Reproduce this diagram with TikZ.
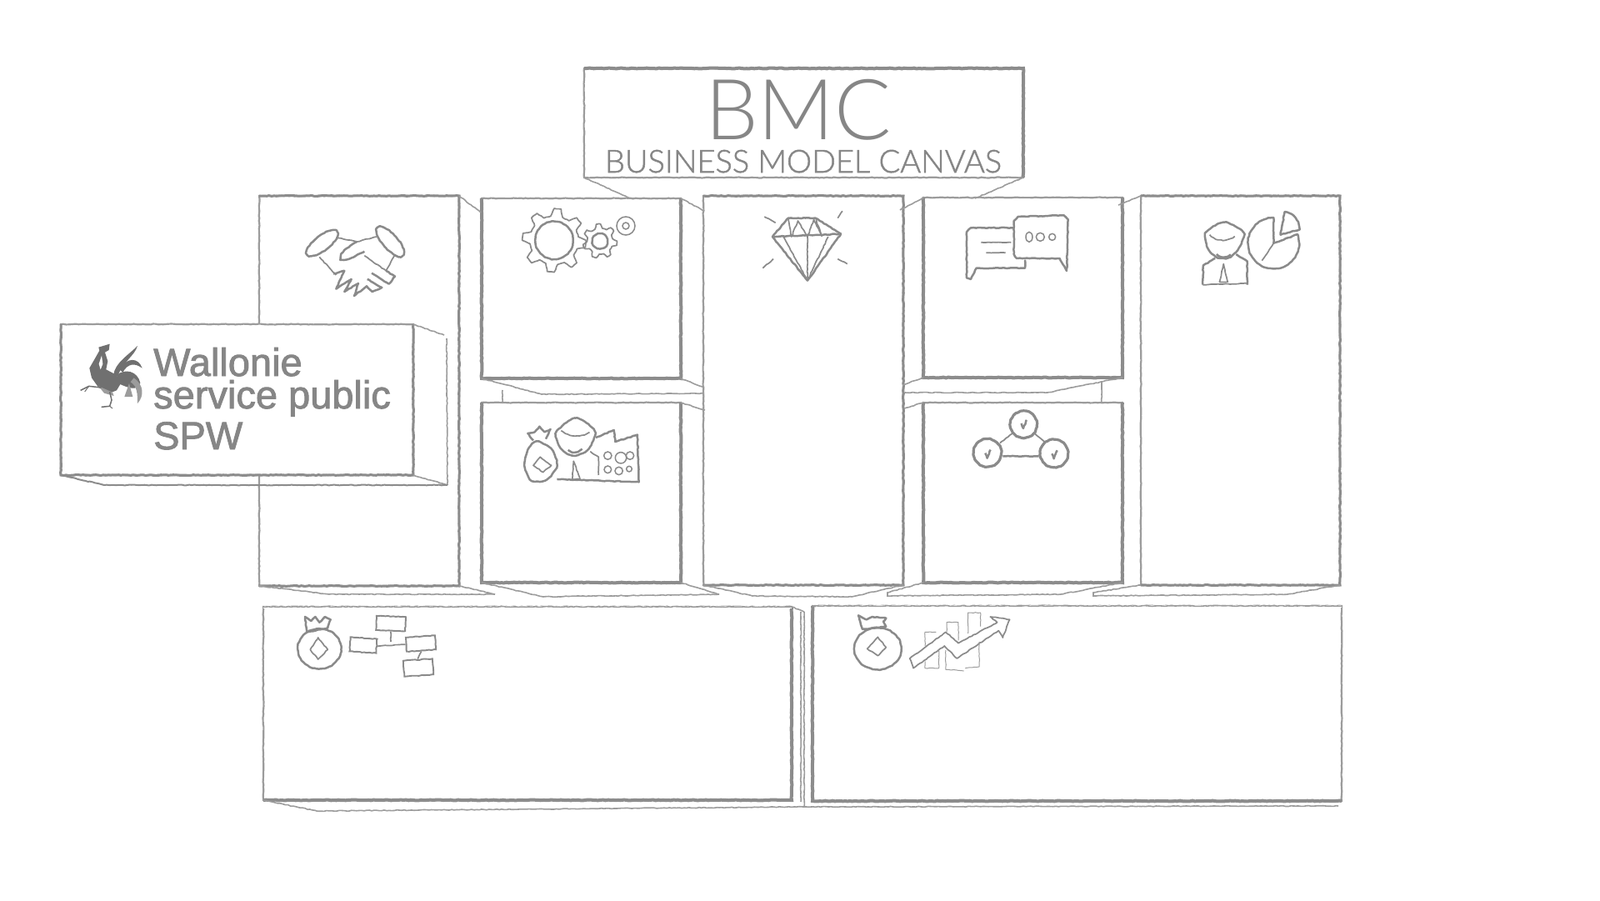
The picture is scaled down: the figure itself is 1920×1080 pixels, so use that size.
\documentclass[tikz,border=0pt]{standalone}
\usepackage{fontspec}
\usepackage{tikz}
\usetikzlibrary{decorations.pathmorphing}
\setmainfont{Liberation Sans}
\newfontfamily\titlefont{Lato Light}
\definecolor{cpencil}{HTML}{8C8C8C}
\definecolor{cthin}{HTML}{9C9C9C}
\definecolor{cicon}{HTML}{8A8A8A}
\definecolor{clogo}{HTML}{868686}
\definecolor{ccock}{HTML}{707070}
\tikzset{
  rough/.style={decorate, decoration={random steps, segment length=3pt, amplitude=.45pt}},
  panel/.style={rough, draw=cthin, line width=2.2pt, anchor=north west, inner sep=0pt, outer sep=0pt},
  heavy/.style={rough, draw=cpencil, line width=4pt},
  mid/.style={rough, draw=cpencil, line width=3pt},
  fold/.style={rough, draw=cthin, line width=1.6pt},
  icon/.style={rough, draw=cicon, line width=1.7pt, line join=round},
  iconb/.style={icon, line width=2.5pt},
  iconp/.style={draw=cicon, line width=1.5pt},
  bars/.style={icon, draw=cthin, line width=1pt},
  flowbox/.style={rough, draw=cicon, line width=1.9pt, inner sep=0pt, minimum width=35pt, minimum height=17pt},
  logotxt/.style={anchor=base west, inner sep=0pt, text=clogo, font=\fontsize{47}{47}\selectfont\addfontfeature{FakeBold=1.8}},
}
\newcommand{\gearwheel}[5]{% centre, outer radius, root radius, teeth, hole radius
  \begin{scope}[shift={#1}]
    \draw[icon] (0:#2) \foreach \t in {1,...,#4} {
      -- ({(\t-.72)*360/#4}:#2) -- ({(\t-.55)*360/#4}:#3) -- ({(\t-.18)*360/#4}:#3) -- ({\t*360/#4}:#2)};
    \draw[iconb] (0,0) circle (#5);
  \end{scope}}
\newcommand{\tickmark}[1]{%
  \draw[iconb] #1 ++(-8,-4) -- ++(7,18) -- ++(12,-30);}
\begin{document}
\begin{tikzpicture}[x=1pt,y=-1pt]
\useasboundingbox (0,0) rectangle (1920,1080);
% ---------------- title
\node[panel, minimum width=527pt, minimum height=131pt] (bmc) at (701,82) {};
\draw[heavy] (bmc.north west) -- (bmc.north east) -- (bmc.south east);
\node[anchor=base, inner sep=0pt, text=clogo, font=\titlefont\fontsize{101}{101}\selectfont] (bmctxt) at (958,167) {BMC};
\node[anchor=base, inner sep=0pt, text=clogo, font=\titlefont\fontsize{38}{38}\selectfont\addfontfeature{FakeBold=1.5}] (bmcsub) at (964,207) {BUSINESS MODEL CANVAS};
% ---------------- top row
\node[panel, minimum width=240pt, minimum height=468pt] (kp) at (311,235) {};
\node[panel, minimum width=239pt, minimum height=216pt] (ka) at (578,238) {};
\node[panel, minimum width=239pt, minimum height=216pt] (kr) at (578,483) {};
\node[panel, minimum width=240pt, minimum height=467pt] (vp) at (844,235) {};
\node[panel, minimum width=239pt, minimum height=216pt] (cr) at (1108,237) {};
\node[panel, minimum width=239pt, minimum height=216pt] (ch) at (1108,483) {};
\node[panel, minimum width=239pt, minimum height=467pt] (cs) at (1369,235) {};
\foreach \n in {ka,kr,cr,ch} \draw[heavy] (\n.north west) -- (\n.south west) -- (\n.south east) -- (\n.north east);
\foreach \n in {kp,vp,cs} \draw[mid] (\n.north west) -- (\n.north east) -- (\n.south east) -- (\n.south west);
% ---------------- bottom row
\node[panel, minimum width=634pt, minimum height=232pt] (cost) at (316,728) {};
\node[panel, minimum width=635pt, minimum height=234pt] (rev) at (975,727) {};
\draw[heavy] (cost.south west) -- (cost.south east) -- (cost.north east);
\draw[heavy] (rev.north west) -- (rev.south west) -- (rev.south east);
\draw[draw=white, line width=3pt] (cost.north west) -- (cost.north east);
\draw[fold] (cost.north west) -- (cost.north east);
\draw[draw=white, line width=3pt] (rev.north west) ++(4,0) -- (rev.north east);
\draw[fold] (rev.north west) -- (rev.north east);
\coordinate (fa) at (961,734); \coordinate (fb) at (961,962);
\coordinate (fc) at (965,734); \coordinate (fd) at (965,968);
\draw[fold] (fa) -- (fb);
\draw[fold] (fc) -- (fd);
\draw[fold] (cost.north east) -- (fc);
% ---------------- folds between the panels
\coordinate (t1) at (756,238); \coordinate (t2) at (1170,238);
\draw[fold] (bmc.south west) -- (t1);
\draw[fold] (bmc.south east) -- (t2);
\coordinate (p1) at (577,255); \coordinate (p2) at (845,253);
\coordinate (p3) at (1080,252); \coordinate (p4) at (1342,246);
\draw[fold] (kp.north east) -- (p1);
\draw[fold] (ka.north east) -- (p2);
\draw[fold] (cr.north west) -- (p3);
\draw[fold] (cs.north west) -- (p4);
\coordinate (q1) at (650,473); \coordinate (q2) at (845,472); \coordinate (q3) at (845,465);
\coordinate (q4) at (846,492); \coordinate (q5) at (603,468); \coordinate (q6) at (603,483);
\draw[fold] (ka.south west) -- (q1) -- (q2);
\draw[fold] (ka.south east) -- (q3);
\draw[fold] (kr.north east) -- (q4);
\draw[fold] (q5) -- (q6);
\coordinate (r1) at (1257,471); \coordinate (r2) at (1086,471); \coordinate (r3) at (1083,462);
\coordinate (r4) at (1085,490); \coordinate (r5) at (1322,458); \coordinate (r6) at (1322,483);
\draw[fold] (cr.south east) -- (r1) -- (r2);
\draw[fold] (cr.south west) -- (r3);
\draw[fold] (ch.north west) -- (r4);
\draw[fold] (r5) -- (r6);
\coordinate (b1) at (395,713); \coordinate (b2) at (594,713);
\draw[fold] (kp.south west) -- (b1) -- (b2);
\draw[fold] (kp.south east) -- (b2);
\coordinate (b3) at (652,716); \coordinate (b4) at (863,713);
\draw[fold] (kr.south west) -- (b3) -- (b4);
\draw[fold] (kr.south east) -- (b4);
\coordinate (b5) at (903,715); \coordinate (b6) at (1022,716);
\draw[fold] (vp.south west) -- (b5) -- (b6);
\draw[fold] (vp.south east) -- (b6);
\coordinate (b7) at (1065,711); \coordinate (b8) at (1065,715); \coordinate (b9) at (1273,713);
\draw[fold] (ch.south west) -- (b7) -- (b8) -- (b9) -- (ch.south east);
\coordinate (b10) at (1312,711); \coordinate (b11) at (1312,715); \coordinate (b12) at (1545,713);
\draw[fold] (cs.south west) -- (b10) -- (b11) -- (b12) -- (cs.south east);
\coordinate (c1) at (380,973); \coordinate (c2) at (964,968); \coordinate (c3) at (1606,967);
\draw[fold] (cost.south west) -- (c1) -- (c2);
\draw[fold] (c2) -- (c3);
% ---------------- SPW card
\node[panel, fill=white, minimum width=423pt, minimum height=181pt] (spw) at (73,389) {};
\draw[mid] (spw.north east) -- (spw.south east) -- (spw.south west) -- (spw.north west);
\coordinate (s1) at (533,402); \coordinate (s2) at (536,406); \coordinate (s3) at (537,582);
\coordinate (s4) at (125,582);
\draw[fold] (spw.north east) -- (s1);
\draw[fold] (s2) -- (s3);
\draw[fold] (spw.south east) -- (s3);
\draw[mid, line width=2pt] (spw.south west) -- (s4) -- (s3);
\node[logotxt] (wal) at (184,451) {Wallonie};
\node[logotxt] (ser) at (184,490) {service public};
\node[logotxt] (pub) at (184,539) {SPW};
% rooster
\begin{scope}[shift={(90,400)},scale=.3333]
\fill[ccock] (85,50) -- (125,38) -- (122,60) -- (108,68) -- (118,100) -- (112,130) -- (150,150) -- (165,180) -- (150,205) -- (125,215) -- (85,195) -- (60,160) -- (52,125) -- (75,85) -- (88,62) -- cycle;
\fill[white] (86,110) -- (96,80) -- (100,110) -- (92,130) -- cycle;
\fill[ccock] (138,150) .. controls (145,105) and (190,80) .. (225,45) .. controls (215,80) and (175,100) .. (155,150) -- cycle;
\fill[ccock] (160,130) .. controls (185,85) and (228,85) .. (242,125) .. controls (215,105) and (190,108) .. (172,140) -- cycle;
\fill[ccock] (150,150) .. controls (180,125) and (225,135) .. (235,178) .. controls (225,210) and (190,195) .. (160,182) -- cycle;
\fill[cthin] (212,160) .. controls (248,185) and (250,225) .. (225,252) .. controls (225,220) and (225,190) .. (200,175) -- cycle;
\fill[cthin] (178,228) -- (195,180) -- (208,228) -- cycle;
\fill[cthin] (85,190) -- (135,212) -- (140,225) -- (105,215) -- cycle;
\draw[draw=ccock, line width=1.5pt] (125,210) -- (132,240) -- (125,262) -- (95,265);
\draw[draw=ccock, line width=1pt] (125,262) -- (135,270);
\draw[draw=ccock, line width=1.5pt] (95,195) -- (50,190) -- (20,205);
\draw[draw=ccock, line width=1pt] (50,190) -- (35,210);
\end{scope}
% ---------------- handshake
\begin{scope}[shift={(350,260)},scale=.3333]
\draw[iconb] (110,95) ellipse [x radius=68, y radius=27, rotate=38];
\draw[iconb] (355,90) ellipse [x radius=68, y radius=27, rotate=-48];
\draw[icon] (160,75) -- (235,90) -- (305,72);
\draw[iconb] (235,90) .. controls (200,110) and (165,135) .. (180,155) .. controls (200,160) and (230,140) .. (262,125);
\draw[icon] (100,145) -- (160,210);
\draw[icon] (370,140) -- (340,195) -- (262,140);
\draw[iconb] (340,195) -- (372,215) -- (350,242) -- (288,203);
\draw[iconb] (150,205) -- (190,195) -- (160,260) -- (215,225) -- (190,270) -- (240,240) -- (225,285) -- (270,250) -- (290,270) -- (325,255) -- (272,225);
\end{scope}
% ---------------- gears
\begin{scope}[shift={(570,230)},scale=.3333]
\gearwheel{(285,175)}{115}{88}{8}{68}
\gearwheel{(450,178)}{62}{47}{7}{27}
\draw[iconp] (543,123) circle (33);
\draw[iconp] (543,123) circle (12);
\end{scope}
% ---------------- diamond
\begin{scope}[shift={(680,60)},xscale=.3827,yscale=.3333]
\draw[iconb] (695,605) -- (780,605) -- (860,662) -- (755,830) -- (645,672) -- cycle;
\draw[iconb] (645,672) -- (860,662);
\draw[icon] (695,605) -- (705,672) -- (725,615) -- (755,672) -- (775,610) -- (800,670) -- (780,605);
\foreach \x in {680,755,820} \draw[icon] (\x,672) -- (755,830);
\draw[icon] (620,600) -- (655,622);
\draw[icon] (865,580) -- (850,605);
\draw[icon] (615,785) -- (648,752);
\draw[icon] (850,752) -- (880,770);
\end{scope}
% ---------------- speech bubbles, people, network
\begin{scope}[shift={(1100,230)},scale=.3333]
\draw[iconb] (350,130) -- (195,130) -- (180,145) -- (180,310) -- (195,315) -- (215,275) -- (390,275) -- (390,245);
\draw[iconb] (350,105) -- (365,90) -- (530,85) -- (545,100) -- (540,285) -- (515,240) -- (360,240) -- (350,225) -- cycle;
\draw[iconp] (405,163) ellipse [x radius=12, y radius=18];
\draw[iconp] (445,163) circle (15);
\draw[iconp] (488,163) circle (12);
\draw[icon] (232,182) -- (340,182);
\draw[icon] (250,220) -- (320,220);
% person and pie
\draw[iconb] plot[smooth cycle] coordinates {(1040,150) (1105,110) (1175,145) (1165,195) (1130,235) (1085,238) (1050,205)};
\draw[icon] (1055,155) .. controls (1080,180) and (1120,180) .. (1145,160);
\draw[iconb] (1080,225) .. controls (1095,238) and (1115,238) .. (1130,225);
\draw[iconb] (1030,335) -- (1032,265) -- (1075,240);
\draw[iconb] (1150,225) -- (1190,250) -- (1190,335);
\draw[icon] (1030,335) -- (1190,330);
\draw[icon] (1105,260) -- (1090,325) -- (1120,325) -- cycle;
\draw[iconb] (1285,185) -- (1285,93) arc [start angle=270, end angle=-20, radius=92] -- cycle;
\draw[icon] (1285,185) -- (1243,248);
\draw[iconb] (1310,155) -- (1325,72) arc [start angle=-80, end angle=0, radius=65] -- cycle;
% network
\draw[iconb, line width=3.2pt] (385,838) circle (48);
\draw[iconb, line width=3.2pt] (255,940) circle (50);
\draw[iconb, line width=3.2pt] (495,942) circle (50);
\draw[icon] (300,905) -- (345,870);
\draw[icon] (425,870) -- (460,900);
\draw[iconb] (310,952) -- (440,952);
\tickmark{(385,838)} \tickmark{(255,945)} \tickmark{(495,947)}
\end{scope}
% ---------------- bag, person, factory
\begin{scope}[shift={(570,230)},scale=.3333]
\draw[iconb] plot[smooth cycle] coordinates {(220,900) (275,925) (295,985) (260,1035) (205,1040) (178,985) (190,930)};
\draw[iconb] (210,895) -- (190,870) -- (215,865) -- (232,845) -- (250,865) -- (272,855) -- (255,890);
\draw[icon] (235,955) -- (275,985) -- (245,1010) -- (210,985) -- cycle;
\draw[iconb] plot[smooth cycle] coordinates {(292,870) (360,815) (430,860) (410,925) (360,950) (315,930)};
\draw[icon] (310,860) .. controls (340,885) and (385,885) .. (412,865);
\draw[iconb] (335,930) .. controls (350,942) and (370,942) .. (385,925);
\draw[icon] (415,935) -- (445,955) -- (445,1020);
\draw[icon] (355,970) -- (350,1035) -- (378,1035) -- cycle;
\draw[iconb] (295,1035) -- (590,1045) -- (585,875) -- (505,900) -- (500,858) -- (435,885);
\foreach \x/\y/\r in {478/950/14,525/958/20,558/950/14,478/1000/13,518/1005/14,555/998/10} \draw[iconp] (\x,\y) circle (\r);
\end{scope}
% ---------------- bag and flowchart
\begin{scope}[shift={(340,730)},scale=.3333]
\draw[iconb] (130,145) ellipse [x radius=78, y radius=72];
\draw[iconb] (85,85) -- (78,30) -- (100,45) -- (115,30) -- (130,50) -- (150,30) -- (170,40) -- (160,70) -- cycle;
\draw[icon] (125,105) -- (160,148) -- (125,183) -- (97,148) -- cycle;
\end{scope}
\node[flowbox, rotate=-2] (cf1) at (469,748) {};
\node[flowbox, rotate=-4, minimum width=32pt] (cf2) at (436,774) {};
\node[flowbox, rotate=4] (cf3) at (505,772) {};
\node[flowbox, rotate=4, minimum height=19pt] (cf4) at (502,801) {};
\coordinate (cfj) at (469,770);
\draw[icon] (cf2.east) -- (cf3.west);
\draw[icon] (cf1.south) -- (cfj);
\draw[icon] (cf3.south) -- (cf4.north);
% ---------------- bag and chart
\begin{scope}[shift={(1010,725)},scale=.3333]
\draw[iconb] (130,160) ellipse [x radius=85, y radius=75];
\draw[iconb] (75,90) -- (60,40) -- (90,55) -- (110,45) -- (160,50) -- (150,62) -- (160,80) -- cycle;
\draw[icon] (130,118) -- (160,155) -- (130,185) -- (92,160) -- cycle;
\draw[icon] (245,195) -- (375,100) -- (420,140) -- (560,65) -- (535,45) -- (605,55) -- (580,120) -- (565,95) -- (415,195) -- (370,150) -- (258,230) -- cycle;
\draw[bars] (300,150) -- (300,100) -- (340,100);
\draw[bars] (300,205) -- (300,230) -- (350,230) -- (350,165);
\draw[bars] (378,100) -- (378,65) -- (420,65) -- (420,130);
\draw[bars] (375,165) -- (375,235) -- (440,240);
\draw[bars] (455,105) -- (455,30) -- (500,30) -- (500,80);
\draw[bars] (495,135) -- (495,225) -- (445,230);
\end{scope}
\end{tikzpicture}
\end{document}
